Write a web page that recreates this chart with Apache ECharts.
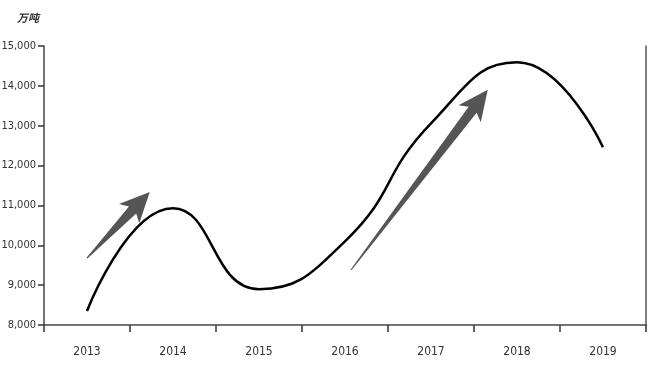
<!DOCTYPE html>
<html>
<head>
<meta charset="utf-8">
<script src="https://cdn.jsdelivr.net/npm/echarts@6/dist/echarts.min.js"></script>
<style>html,body{margin:0;padding:0;background:#fff}#c{width:659px;height:368px}</style>
</head>
<body>
<div id="c"></div>
<script>
var categories = ['2013', '2014', '2015', '2016', '2017', '2018', '2019'];
var values = [8350, 10930, 8900, 10100, 13060, 14590, 12460];
var yTicks = [8000, 9000, 10000, 11000, 12000, 13000, 14000, 15000];
var unitLabel = '万吨';
// annotation arrows: [xIndex (fractional), value] start -> end
var arrowStarts = [[0.0, 9680], [3.07, 9380]];
var arrowEnds = [[0.73, 11340], [4.66, 13900]];

var FONT = "'DejaVu Sans Condensed', 'Liberation Sans Narrow', 'Liberation Sans', Arial, sans-serif";
var chart = echarts.init(document.getElementById('c'), null, {renderer: 'canvas'});

function fmt(v) { return String(v).replace(/\B(?=(\d{3})+(?!\d))/g, ','); }

var arrowData = arrowStarts.map(function (s, i) { return [s[0], s[1], arrowEnds[i][0], arrowEnds[i][1]]; });

chart.setOption({
  animation: false,
  backgroundColor: '#fff',
  grid: {left: 44, right: 13, top: 46, bottom: 43, containLabel: false, outerBoundsMode: 'none'},
  title: {
    text: unitLabel, left: 12, top: 7,
    textStyle: {fontSize: 11, fontWeight: 'bold', fontStyle: 'italic', color: '#333', fontFamily: "'Noto Sans CJK SC', sans-serif"}
  },
  xAxis: [{
    type: 'category', data: categories, boundaryGap: true,
    axisLine: {onZero: false, lineStyle: {color: '#444', width: 1.5}},
    axisTick: {show: true, length: 7, lineStyle: {color: '#333', width: 1.5}},
    axisLabel: {color: '#333', fontSize: 12, margin: 21, fontFamily: FONT}
  }, {
    type: 'value', min: -0.5, max: 6.5, show: false
  }],
  yAxis: [{
    type: 'value', min: 8000, max: 15000, interval: 1000,
    axisLine: {show: true, onZero: false, lineStyle: {color: '#444', width: 1.5}},
    axisTick: {show: true, length: 6, lineStyle: {color: '#333', width: 1.5}},
    splitLine: {show: false},
    axisLabel: {color: '#333', fontSize: 11, margin: 8, fontFamily: FONT,
      formatter: function (v) { return yTicks.indexOf(v) >= 0 ? fmt(v) : ''; }}
  }, {
    type: 'value', min: 8000, max: 15000, position: 'right',
    axisLine: {show: true, onZero: false, lineStyle: {color: '#555', width: 1.5}},
    axisTick: {show: false}, axisLabel: {show: false}, splitLine: {show: false}
  }],
  series: [{
    type: 'line', data: values, smooth: 0.5, symbol: 'none',
    lineStyle: {color: '#000', width: 2.5}, z: 3
  }, {
    type: 'custom', xAxisIndex: 1, yAxisIndex: 0, data: arrowData, z: 2,
    renderItem: function (params, api) {
      var p0 = api.coord([api.value(0), api.value(1)]);
      var p1 = api.coord([api.value(2), api.value(3)]);
      var dx = p1[0] - p0[0], dy = p1[1] - p0[1];
      var L = Math.sqrt(dx * dx + dy * dy);
      var ux = dx / L, uy = dy / L, nx = -uy, ny = ux;
      var headLen = 25, headW = 14, shaftW = 5, tailW = 0.6;
      var bx = p1[0] - ux * headLen, by = p1[1] - uy * headLen;
      var pts = [
        [p0[0] + nx * tailW, p0[1] + ny * tailW],
        [bx + nx * shaftW, by + ny * shaftW],
        [bx - ux * 5 + nx * headW, by - uy * 5 + ny * headW],
        [p1[0], p1[1]],
        [bx - ux * 5 - nx * headW, by - uy * 5 - ny * headW],
        [bx - nx * shaftW, by - ny * shaftW],
        [p0[0] - nx * tailW, p0[1] - ny * tailW]
      ];
      return {type: 'polygon', shape: {points: pts}, style: {fill: '#555'}};
    }
  }]
});
</script>
</body>
</html>
